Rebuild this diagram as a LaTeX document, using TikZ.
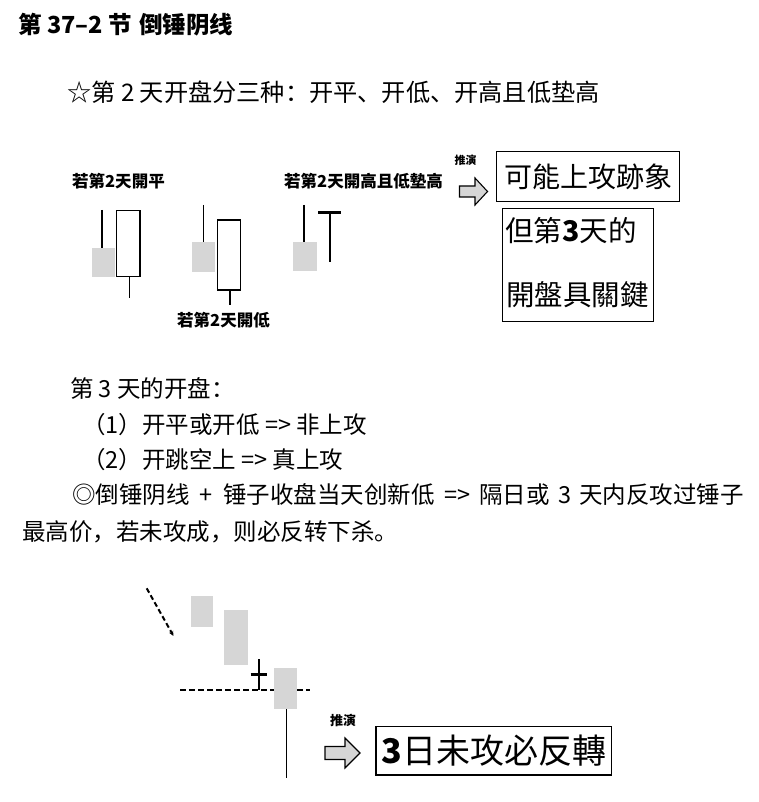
\documentclass[tikz,border=0pt]{standalone}
\usepackage{fontspec}
\newfontfamily\scfont{Noto Sans CJK SC}
\newfontfamily\tcfont{Noto Sans CJK TC}
\usetikzlibrary{arrows.meta}
\definecolor{cgray}{gray}{0.84}
\tikzset{
  titletxt/.style={anchor=west, inner sep=0pt, font=\scfont\bfseries\fontsize{23.5}{26}\selectfont},
  txt/.style={anchor=west, inner sep=0pt, font=\scfont\fontsize{23.5}{28}\selectfont},
  lbl/.style={anchor=west, inner sep=0pt, font=\tcfont\bfseries\fontsize{16.5}{20}\selectfont},
  tuiyan/.style={inner sep=0pt, font=\tcfont\bfseries\fontsize{#1}{#1}\selectfont},
  wick/.style={line width=1.3pt},
  whitebody/.style={draw, line width=1.3pt, fill=white},
  graybody/.style={fill=cgray, draw=none},
  blockarrow/.style={draw, line width=1.1pt, fill=cgray, line join=miter},
  msgbox/.style={draw, line width=1.4pt, inner sep=0pt},
  boxtxt/.style={inner sep=0pt, font=\tcfont\fontsize{#1}{#1}\selectfont},
}
\begin{document}
\begin{tikzpicture}[x=1pt,y=-1pt]
\useasboundingbox (0,0) rectangle (758,802);
\fill[white] (0,0) rectangle (758,802);

% ---- texts ----
\node[titletxt] (title) at (18,25) {第 37–2 节\hspace{2pt} 倒锤阴线};
\node[txt, font=\scfont\fontsize{24.2}{28}\selectfont] (intro) at (67,92) {☆第 2 天开盘分三种：开平、开低、开高且低垫高};
\node[txt] (l1) at (70,388) {第 3 天的开盘：};
\node[txt] (l2) at (82,425) {（1）开平或开低 => 非上攻};
\node[txt] (l3) at (82,460) {（2）开跳空上 => 真上攻};
\node[txt] (l4) at (72,495) {◎倒锤阴线\hspace{5pt} + \hspace{5pt}锤子收盘当天创新低\hspace{4pt} => \hspace{4pt}隔日或\hspace{3pt} 3 \hspace{3pt}天内反攻过锤子};
\node[txt] (l5) at (22,532) {最高价，若未攻成，则必反转下杀。};

% ---- top candles ----
\node[lbl] (la) at (72,181) {若第2天開平};
\node[lbl] (lc) at (284,181) {若第2天開高且低墊高};
\node[lbl] (lb) at (177,320) {若第2天開低};

% candle pair 1
\fill[cgray] (91.7,247.5) rectangle (115,276.7);
\draw[wick] (102,210) -- (102,247.5);
\draw[whitebody] (116.5,210.5) rectangle (140,276.5);
\draw[wick] (129.2,276.5) -- (129.2,298.3);
% candle pair 2
\fill[cgray] (192.3,241.7) rectangle (215,272.3);
\draw[wick] (203.3,205) -- (203.3,241.7);
\draw[whitebody] (217.7,220) rectangle (240.7,290);
\draw[wick] (230,290) -- (230,305);
% candle pair 3
\fill[cgray] (292.7,241.7) rectangle (316.7,270.7);
\draw[wick] (304,205) -- (304,241.7);
\draw[line width=2.6pt] (318.3,212.3) -- (340.7,212.3);
\draw[wick] (330,212.3) -- (330,261.7);

% ---- top arrow + boxes ----
\node[tuiyan=11] (ty1) at (465.5,160) {推演};
\draw[blockarrow] (459.5,186) -- (475,186) -- (475,178) -- (487.5,191.5) -- (475,205) -- (475,197) -- (459.5,197) -- cycle;
\node[msgbox, minimum width=182.6pt, minimum height=50pt] (box1) at (588,176.7) {};
\node[boxtxt=28] (box1t) at (box1.center) {可能上攻跡象};
\node[msgbox, minimum width=151pt, minimum height=113.4pt] (box2) at (577.8,265) {};
\node[boxtxt=28.5, anchor=west] (box2a) at (505,231) {但第{\bfseries 3}天的};
\node[boxtxt=28.5, anchor=west] (box2b) at (506,295) {開盤具關鍵};

% ---- bottom chart ----
\draw[line width=2pt, dash pattern=on 5pt off 3pt, -{Stealth[length=5pt,width=4.5pt]}] (146.7,588.3) -- (173.5,636);
\fill[cgray] (190.7,596) rectangle (213.3,626.7);
\fill[cgray] (224,610) rectangle (247.7,665);
\draw[line width=1.8pt, dash pattern=on 6pt off 3pt] (180,690) -- (310,690);
\draw[wick] (259,659.3) -- (259,690);
\draw[line width=3pt] (250.7,674.7) -- (267.3,674.7);
\fill[cgray] (274.3,668.3) rectangle (297.3,709.3);
\draw[wick] (286.7,709.3) -- (286.7,778.3);

\node[tuiyan=13] (ty2) at (343,720) {推演};
\draw[blockarrow] (325,746.5) -- (345,746.5) -- (345,738) -- (360,753) -- (345,768) -- (345,759.5) -- (325,759.5) -- cycle;
\node[msgbox, minimum width=235.7pt, minimum height=48.3pt] (box3) at (493.9,750.9) {};
\node[boxtxt=34] (box3t) at (box3.center) {{\bfseries 3}日未攻必反轉};
\end{tikzpicture}
\end{document}
